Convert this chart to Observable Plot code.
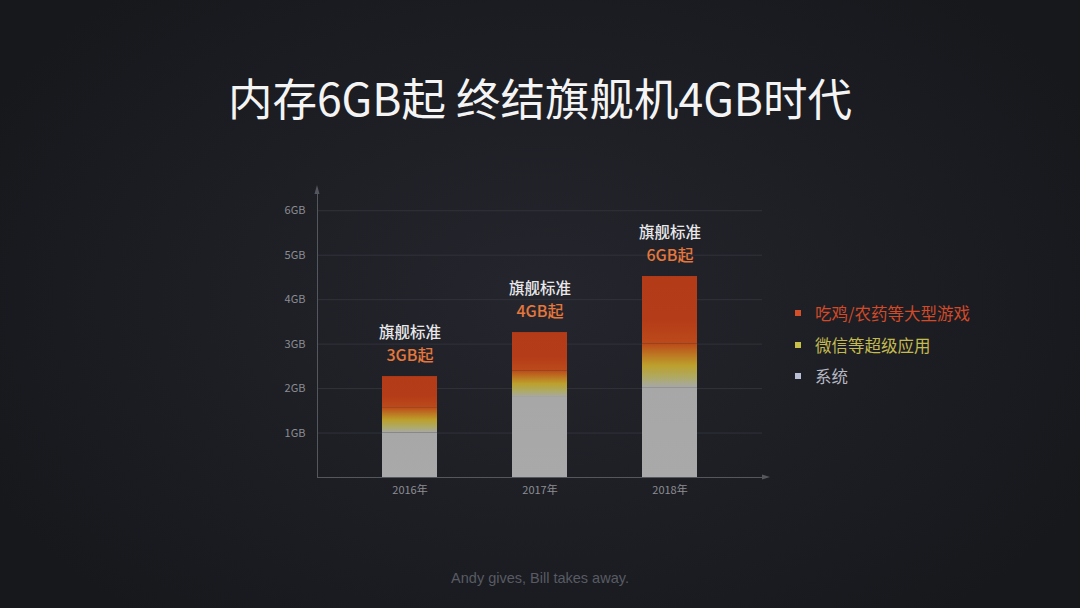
<!DOCTYPE html>
<html>
<head>
<meta charset="utf-8">
<script src="https://cdn.jsdelivr.net/npm/d3@7"></script>
<script src="https://cdn.jsdelivr.net/npm/@observablehq/plot@0.6"></script>
<style>
  html, body { margin: 0; padding: 0; }
  body {
    width: 1080px; height: 608px; overflow: hidden; position: relative;
    background: radial-gradient(ellipse 620px 420px at 540px 300px, #25262d 0%, #1d1e24 55%, #17181c 100%);
    font-family: "Noto Sans CJK SC", "Noto Sans", sans-serif;
  }
  #title {
    position: absolute; left: 0; width: 1080px; top: 67px; text-align: center;
    color: #f4f4f4; font-size: 44.5px; font-weight: 400; letter-spacing: 0px; line-height: 60px;
  }
  #chart { position: absolute; left: 0; top: 170px; }
  #legend { position: absolute; left: 792px; top: 300px; }
  .lg { position: relative; height: 31.5px; font-size: 16.5px; line-height: 26px; padding-left: 23px; }
  .lg .sw { position: absolute; left: 3px; top: 10px; width: 6px; height: 6px; }
  #foot {
    position: absolute; left: 0; width: 1080px; top: 570px; text-align: center;
    color: #585b63; font-size: 14.5px; font-family: "Helvetica", "Liberation Sans", sans-serif;
  }
</style>
</head>
<body>
<div id="title">内存6GB起 终结旗舰机4GB时代</div>
<div id="chart"></div>
<div id="legend"></div>
<div id="foot">Andy gives, Bill takes away.</div>
<script>
// ---- data ----
const years = ["2016年", "2017年", "2018年"];
const systemGB = [1.0, 1.8, 2.02];
const appsGB = [0.57, 0.6, 0.98];
const gamesGB = [0.7, 0.86, 1.52];
const flagshipLabel = ["旗舰标准", "旗舰标准", "旗舰标准"];
const flagshipRam = ["3GB起", "4GB起", "6GB起"];
const yTicks = [1, 2, 3, 4, 5, 6];
const yTickLabels = ["1GB", "2GB", "3GB", "4GB", "5GB", "6GB"];
const seriesKeys = ["system", "apps", "games"];
const legendNames = ["吃鸡/农药等大型游戏", "微信等超级应用", "系统"];
const legendColors = ["#d4502a", "#c9c04a", "#b9c0d6"];
const legendTextColors = ["#d24a28", "#c4bb4e", "#b6b8c2"];

// long table for stacked bars
const seriesValues = {system: systemGB, apps: appsGB, games: gamesGB};
const rows = [];
years.forEach((yr, i) => {
  seriesKeys.forEach(k => rows.push({year: yr, key: k, value: seriesValues[k][i]}));
});
const totals = years.map((yr, i) => ({
  year: yr, total: systemGB[i] + appsGB[i] + gamesGB[i],
  label: flagshipLabel[i], ram: flagshipRam[i]
}));

const chart = Plot.plot({
  width: 1080,
  height: 340,
  marginLeft: 317,
  marginRight: 318,
  marginTop: 18,
  marginBottom: 33,
  style: {background: "transparent", fontFamily: "'Noto Sans CJK SC', sans-serif"},
  x: {domain: years, paddingInner: 0.58, paddingOuter: 0.5, label: null, tickSize: 0, tickPadding: 8},
  y: {domain: [0, 6.5], label: null},
  color: {type: "identity"},
  marks: [
    Plot.gridY(yTicks, {stroke: "#30323a", strokeOpacity: 1, strokeWidth: 1}),
    Plot.axisY(yTicks, {tickFormat: (d) => yTickLabels[yTicks.indexOf(d)], tickSize: 0, tickPadding: 12, fill: "#8c8d93", fontSize: 11, label: null}),
    Plot.axisX({tickSize: 0, tickPadding: 9, fill: "#8c8d93", fontSize: 11, label: null}),
    Plot.frame({anchor: "left", stroke: "#55575f"}),
    Plot.barY(rows, Plot.stackY({x: "year", y: "value", order: seriesKeys, fill: d => `url(#grad-${d.key})`})),
    Plot.ruleY([0], {stroke: "#55575f", strokeWidth: 1.2}),
    Plot.text(totals, {x: "year", y: "total", text: "ram", dy: -21, fill: "#e6773c", fontSize: 16, fontWeight: 500}),
    Plot.text(totals, {x: "year", y: "total", text: "label", dy: -44, fill: "#e8e8ea", fontSize: 15.5, fontWeight: 500})
  ]
});

// gradient defs (objectBoundingBox, top -> bottom)
const defs = d3.select(chart).insert("defs", ":first-child");
function grad(id, stops) {
  const g = defs.append("linearGradient").attr("id", id).attr("x1", 0).attr("y1", 0).attr("x2", 0).attr("y2", 1);
  stops.forEach(([o, c]) => g.append("stop").attr("offset", o).attr("stop-color", c));
}
grad("grad-games", [[0, "#b33b17"], [0.65, "#b53c18"], [1, "#bb4a1b"]]);
grad("grad-apps", [[0, "#bb4a1b"], [0.25, "#bd7622"], [0.5, "#bca02c"], [0.78, "#aeaa66"], [1, "#a7a7a7"]]);
grad("grad-system", [[0, "#a7a7a7"], [1, "#a9a9a9"]]);

// small arrowheads on axes (svg coordinates)
const svg = d3.select(chart);
svg.append("path").attr("d", "M314.5,24 L317,15 L319.5,24 Z").attr("fill", "#55575f");
svg.append("path").attr("d", "M762,304.5 L770,307 L762,309.5 Z").attr("fill", "#55575f");
svg.append("line").attr("x1", 762).attr("x2", 764).attr("y1", 307).attr("y2", 307).attr("stroke", "#55575f").attr("stroke-width", 1.2);

document.getElementById("chart").appendChild(chart);

// legend
const lg = d3.select("#legend");
legendNames.forEach((n, i) => {
  const row = lg.append("div").attr("class", "lg").style("color", legendTextColors[i]);
  row.append("span").attr("class", "sw").style("background", legendColors[i]);
  row.append("span").text(n);
});
</script>
</body>
</html>
